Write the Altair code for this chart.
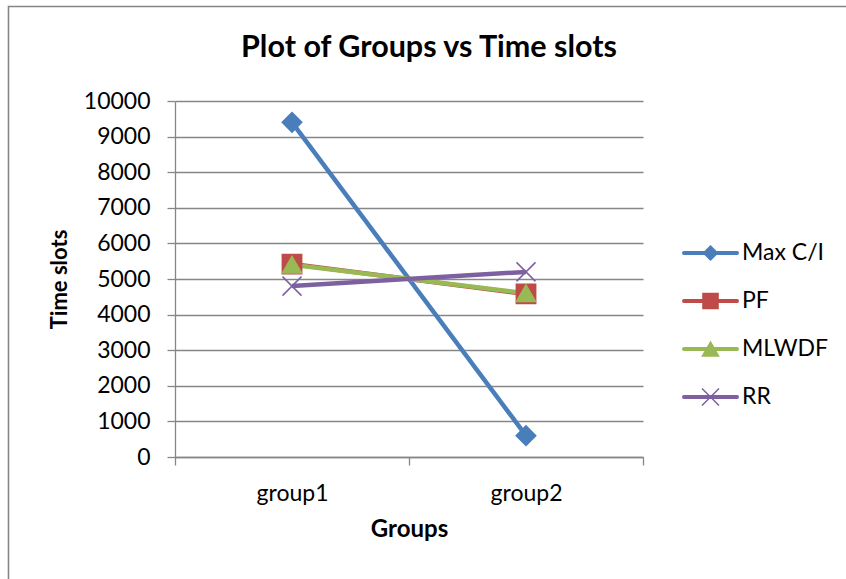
import altair as alt
import pandas as pd

# Categories and series values
groups = ["group1", "group2"]
series = ["Max C/I", "PF", "MLWDF", "RR"]
max_ci = [9400, 600]
pf = [5420, 4580]
mlwdf = [5400, 4600]
rr = [4800, 5200]
y_ticks = [0, 1000, 2000, 3000, 4000, 5000, 6000, 7000, 8000, 9000, 10000]

# Styling per series
colors = ["#4A7EBB", "#BE4B48", "#98B954", "#7D60A0"]
x_marker = "M-1,-1L1,1M-1,1L1,-1"
shapes = ["diamond", "square", "triangle-up", x_marker]
plot_sizes = [380, 360, 420, 361]
legend_sizes = [196, 290, 290, 225]

rows = []
for name, vals in zip(series, [max_ci, pf, mlwdf, rr]):
    for g, v in zip(groups, vals):
        rows.append({"series": name, "group": g, "slots": v})
df = pd.DataFrame(rows)
legend_df = pd.DataFrame({"series": series})
frame_df = pd.DataFrame({"k": [0]})

FONT = "Lato"
GRAY = "#868686"

color_scale = alt.Scale(domain=series, range=colors)
shape_scale = alt.Scale(domain=series, range=shapes)

x_enc = alt.X(
    "group:N",
    bandPosition=0.5,
    scale=alt.Scale(type="band", domain=groups, paddingInner=0, paddingOuter=0),
    axis=alt.Axis(
        title="Groups",
        labelAngle=0,
        tickBand="extent",
        labelPadding=17,
        titlePadding=12,
        titleFontSize=24,
    ),
)
y_axis = alt.Axis(
    title="Time slots",
    values=y_ticks,
    format="d",
    grid=True,
    labelOverlap=False,
    labelPadding=17,
    titlePadding=12,
)
y_enc = alt.Y(
    "slots:Q",
    scale=alt.Scale(domain=[0, 10000], nice=False, zero=True),
    axis=y_axis,
)

# Outer chart frame
frame = alt.Chart(frame_df).mark_rect(
    fill=None, stroke=GRAY, strokeWidth=1.6
).encode(
    x=alt.value(-166.5), x2=alt.value(1000),
    y=alt.value(-94.5), y2=alt.value(1000),
)

lines = alt.Chart(df).mark_line(strokeWidth=4.5).encode(
    x=x_enc,
    y=y_enc,
    color=alt.Color("series:N", scale=color_scale, legend=None),
)

points = alt.Chart(df).mark_point(filled=True, opacity=1, strokeWidth=1.5).encode(
    x=x_enc,
    y=y_enc,
    color=alt.Color("series:N", scale=color_scale, legend=None),
    stroke=alt.Stroke("series:N", scale=color_scale, legend=None),
    shape=alt.Shape("series:N", scale=shape_scale, legend=None),
    size=alt.Size("series:N", scale=alt.Scale(domain=series, range=plot_sizes), legend=None),
)

plot = alt.layer(frame, lines, points)

# Hand-built legend on the right: line sample, marker, label
leg_y = alt.Y(
    "series:N",
    scale=alt.Scale(type="point", domain=series, range=[152, 296], padding=0),
    axis=None,
)
leg_lines = alt.Chart(legend_df).mark_rule(strokeWidth=4, strokeCap="round").encode(
    x=alt.value(509), x2=alt.value(562),
    y=leg_y,
    color=alt.Color("series:N", scale=color_scale, legend=None),
)
leg_points = alt.Chart(legend_df).mark_point(filled=True, opacity=1, strokeWidth=1.5).encode(
    x=alt.value(535.5),
    y=leg_y,
    color=alt.Color("series:N", scale=color_scale, legend=None),
    stroke=alt.Stroke("series:N", scale=color_scale, legend=None),
    shape=alt.Shape("series:N", scale=shape_scale, legend=None),
    size=alt.Size("series:N", scale=alt.Scale(domain=series, range=legend_sizes), legend=None),
)
leg_text = alt.Chart(legend_df).mark_text(
    align="left", baseline="middle", font=FONT, fontSize=23, color="black"
).encode(
    x=alt.value(567),
    y=leg_y,
    text="series:N",
)
legend = alt.layer(leg_lines, leg_points, leg_text)

chart = alt.layer(plot, legend).resolve_scale(
    y="independent", size="independent"
).properties(
    width=468,
    height=356,
    background="white",
    padding={"left": 175, "top": 101, "right": 203, "bottom": 122},
    autosize=alt.AutoSizeParams(type="none"),
    # the frame rect widens the group bounds, so the title is pulled back down
    title=alt.TitleParams(
        "Plot of Groups vs Time slots",
        font=FONT, fontSize=30.5, fontWeight="bold", color="black",
        anchor="middle", baseline="alphabetic", dx=20, offset=-82,
    ),
).configure_view(
    stroke=None
).configure_axis(
    labelFont=FONT, labelFontSize=23, labelColor="black",
    titleFont=FONT, titleFontSize=22, titleFontWeight="bold", titleColor="black",
    domainColor=GRAY, tickColor=GRAY, gridColor=GRAY,
    domainWidth=1.3, tickWidth=1.3, gridWidth=1.3, tickSize=8,
)

chart.save("out.html", embed_options={"renderer": "svg", "actions": False})
